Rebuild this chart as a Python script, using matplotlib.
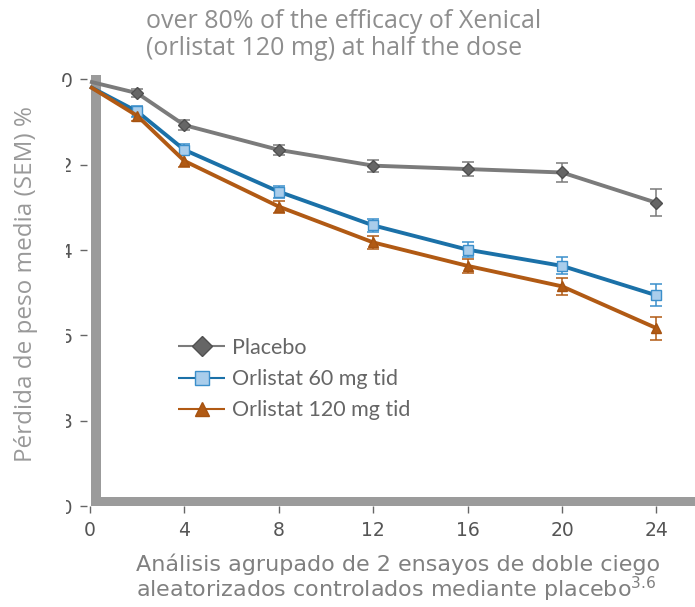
import matplotlib
matplotlib.use("Agg")
import matplotlib.pyplot as plt
from matplotlib.patches import Rectangle

# Weight loss (%) by week
weeks = [0, 2, 4, 8, 12, 16, 20, 24]
placebo = [0.05, 0.32, 1.07, 1.65, 2.02, 2.10, 2.18, 2.89]
placebo_err = [0.0, 0.10, 0.12, 0.12, 0.14, 0.16, 0.22, 0.32]
orl60 = [0.17, 0.75, 1.65, 2.63, 3.42, 3.99, 4.37, 5.06]
orl60_err = [0.0, 0.12, 0.13, 0.14, 0.15, 0.17, 0.20, 0.26]
orl120 = [0.17, 0.85, 1.91, 2.98, 3.82, 4.37, 4.85, 5.83]
orl120_err = [0.0, 0.12, 0.13, 0.14, 0.15, 0.17, 0.20, 0.27]

xticks = [0, 4, 8, 12, 16, 20, 24]
yticks = [0, 2, 4, 6, 8, 10]
ytick_labels = ["0", "\u22122", "\u22124", "\u22126", "\u22128", "\u221210"]

labels = ["Placebo", "Orlistat 60 mg tid", "Orlistat 120 mg tid"]

W, H = 695, 607
fig = plt.figure(figsize=(W / 100, H / 100), dpi=100)
fig.patch.set_facecolor("white")

def px(x0, y0, x1, y1):
    return [x0 / W, 1 - y1 / H, (x1 - x0) / W, (y1 - y0) / H]

ax = fig.add_axes(px(90, 75, 695, 506))
ax.set_xlim(0, 605 / 23.6)
ax.set_ylim(10, -(79.5 - 75) / 42.65)
for s in ax.spines.values():
    s.set_visible(False)
ax.spines["left"].set_position(("outward", 2.5))

# thick grey L-shaped axis
ax.axvspan(0.04, 0.47, color="#9b9b9b", zorder=1, lw=0)
ax.axhspan(9.79, 10.05, xmin=0.002, color="#9b9b9b", zorder=1, lw=0)

ax.set_xticks(xticks)
ax.set_yticks(yticks)
ax.set_yticklabels(ytick_labels)
ax.tick_params(axis="both", colors="#666666", labelcolor="#555555",
               labelsize=13.5, length=5, width=1)
ax.tick_params(axis="x", pad=6)
ax.tick_params(axis="y", pad=5)

series = [
    (placebo, placebo_err, "#7b7b7b", "D", "#666666", "#505050", 6.5),
    (orl60, orl60_err, "#1b71a8", "s", "#a9cdeb", "#3b8fcb", 6.5),
    (orl120, orl120_err, "#b15a14", "^", "#b15a14", "#a65210", 7.5),
]
ebar_cols = ["#7b7b7b", "#3b8fcb", "#b15a14"]
handles = []
for (vals, err, col, mk, fc, ec, ms), ecol, lab in zip(series, ebar_cols, labels):
    ax.errorbar(weeks[1:], vals[1:], yerr=err[1:], fmt="none", ecolor=ecol,
                elinewidth=1.1, capsize=4, capthick=1.1, zorder=3)
    ln, = ax.plot(weeks, vals, color=col, lw=2.8, marker=mk, markersize=ms,
                  markerfacecolor=fc, markeredgecolor=ec, markeredgewidth=1,
                  markevery=list(range(1, len(weeks))), zorder=4,
                  solid_capstyle="butt", clip_on=False, label=lab)
    handles.append(ln)

leg = fig.legend(handles=handles, loc="upper left",
                 bbox_to_anchor=(178 / W, 1 - 338 / H), frameon=False,
                 prop={"family": "Lato", "size": 15.5}, handlelength=2.2,
                 handletextpad=0.3, labelspacing=0.52, borderaxespad=0,
                 borderpad=0)
for t in leg.get_texts():
    t.set_color("#666666")
for h in leg.legend_handles:
    h.set_linewidth(1.5)
    h.set_markersize(10)

# white panel behind the y label that clips the tick labels
fig.patches.append(Rectangle((0, 0), 66 / W, 1 - 82 / H, transform=fig.transFigure,
                             facecolor="white", edgecolor="none", zorder=5))

fig.text(26 / W, 1 - 284 / H, "Pérdida de peso media (SEM) %", rotation=90,
         ha="center", va="center", fontsize=17.5, color="#999999",
         family="Open Sans", zorder=6)

fig.text(146 / W, 1 - 35 / H,
         "over 80% of the efficacy of Xenical\n(orlistat 120 mg) at half the dose",
         ha="left", va="center", fontsize=18, color="#8e8e8e",
         family="Open Sans", linespacing=1.15)

plt.rcParams["mathtext.default"] = "regular"
fig.text(136 / W, 1 - 579 / H,
         "Análisis agrupado de 2 ensayos de doble ciego\n"
         "aleatorizados controlados mediante placebo$^{3.6}$",
         ha="left", va="center", fontsize=16, color="#808080",
         family="DejaVu Sans", linespacing=1.0)

fig.savefig("out.png", dpi=100, facecolor="white")
